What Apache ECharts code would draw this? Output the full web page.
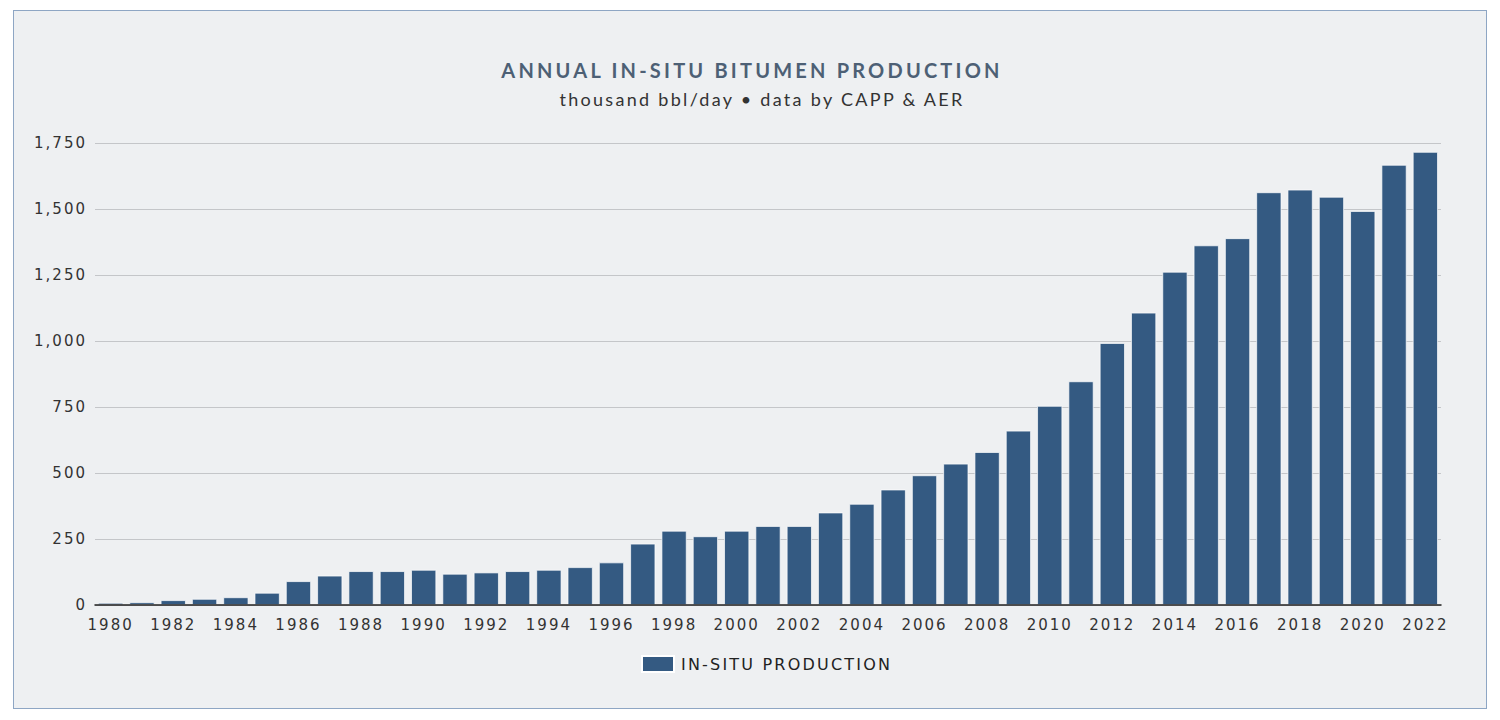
<!DOCTYPE html>
<html>
<head>
<meta charset="utf-8">
<script src="https://cdn.jsdelivr.net/npm/echarts@6/dist/echarts.min.js"></script>
<style>
  html, body { margin: 0; padding: 0; background: #fff; }
  #frame {
    position: absolute; left: 13px; top: 10px; width: 1472px; height: 697px;
    border: 1px solid #8ea6c4; background: #eef0f2;
  }
  #chart { position: absolute; left: 0; top: 0; width: 1500px; height: 720px; }
  /* tracking of the labels, the svg renderer lets css reach the text */
  #chart text { letter-spacing: 2px; }
  #chart text[style*="Lato"] { letter-spacing: 2.3px; }
  #chart text[style*="bold"] { letter-spacing: 3.2px; }
  #chart text[style*="16px"] { letter-spacing: 2.2px; }
</style>
</head>
<body>
<div id="frame"></div>
<div id="chart"></div>
<script>
// years on the x axis
const years = [
  '1980', '1981', '1982', '1983', '1984', '1985', '1986', '1987', '1988', '1989',
  '1990', '1991', '1992', '1993', '1994', '1995', '1996', '1997', '1998', '1999',
  '2000', '2001', '2002', '2003', '2004', '2005', '2006', '2007', '2008', '2009',
  '2010', '2011', '2012', '2013', '2014', '2015', '2016', '2017', '2018', '2019',
  '2020', '2021', '2022'
]

// in-situ production, thousand bbl/day
const production = [
  8, 10, 18, 23, 29, 46, 90, 111, 128, 128,
  133, 118, 123, 128, 133, 143, 161, 232, 281, 260,
  281, 299, 299, 350, 383, 437, 491, 535, 579, 660,
  754, 847, 992, 1107, 1262, 1362, 1389, 1563, 1573, 1546,
  1492, 1667, 1716
]

const seriesName = 'IN-SITU PRODUCTION'
const titleText = 'ANNUAL IN-SITU BITUMEN PRODUCTION'
const subtitleText = 'thousand bbl/day \u2022 data by CAPP & AER'

// y axis range
const yMin = 0
const yMax = 1750
const yStep = 250

const labelFont = 'DejaVu Sans'

const chart = echarts.init(document.getElementById('chart'), null, { renderer: 'svg' })

chart.setOption({
  backgroundColor: 'transparent',
  animation: false,
  title: [
    {
      text: titleText,
      left: 747,
      textAlign: 'center',
      top: 55,
      textStyle: {
        color: '#4d6075',
        fontFamily: 'Lato',
        fontWeight: 'bold',
        fontSize: 20
      }
    },
    {
      text: subtitleText,
      left: 757,
      textAlign: 'center',
      top: 85,
      textStyle: {
        color: '#333',
        fontFamily: 'Lato',
        fontWeight: 'normal',
        fontSize: 18
      }
    }
  ],
  legend: {
    left: 641,
    top: 655,
    padding: 0,
    icon: 'rect',
    itemWidth: 32,
    itemHeight: 16,
    itemGap: 7,
    textStyle: { color: '#222', fontFamily: labelFont, fontSize: 16, padding: [0, 0, 0, 2] },
    data: [seriesName]
  },
  grid: {
    left: 95,
    right: 59,
    top: 143,
    bottom: 115
  },
  xAxis: {
    type: 'category',
    data: years,
    z: 3,
    axisTick: { show: false },
    axisLine: { lineStyle: { color: '#222', width: 1.5 } },
    axisLabel: {
      interval: 1,
      margin: 12,
      color: '#333',
      fontFamily: labelFont,
      fontSize: 15
    }
  },
  yAxis: {
    type: 'value',
    min: yMin,
    max: yMax,
    interval: yStep,
    axisLine: { show: false },
    axisTick: { show: false },
    axisLabel: {
      margin: 8,
      color: '#333',
      fontFamily: labelFont,
      fontSize: 15,
      formatter: v => v.toLocaleString('en-US')
    },
    splitLine: { lineStyle: { color: '#c4c6c9', width: 1 } }
  },
  series: [
    {
      name: seriesName,
      type: 'bar',
      data: production,
      barCategoryGap: '20%',
      itemStyle: { color: '#345a82', borderColor: '#ffffff', borderWidth: 0.7 }
    }
  ]
})
</script>
</body>
</html>
